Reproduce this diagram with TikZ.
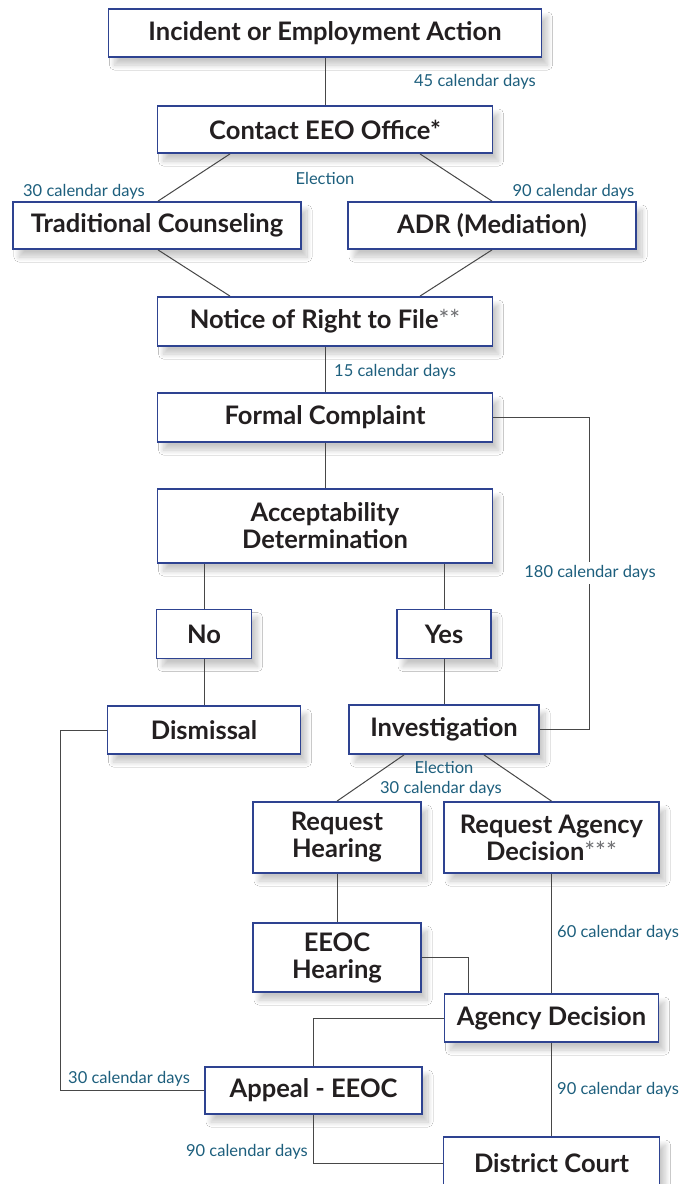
\documentclass[tikz,border=0pt]{standalone}
\usepackage{fontspec}
\setmainfont{Lato}
\usetikzlibrary{shadows.blur}
\definecolor{boxblue}{HTML}{2E4391}
\definecolor{labteal}{HTML}{1D5F7D}
\definecolor{txtdark}{HTML}{231F20}
\definecolor{linegray}{HTML}{474747}
\definecolor{stargray}{HTML}{6D6E71}
\newcommand{\stars}[1]{{\mdseries\color{stargray}#1}}
\begin{document}
\begin{tikzpicture}[x=1pt,y=-1pt,
  box/.style={draw=boxblue, line width=1.8pt, fill=white, text=txtdark,
    font=\bfseries\fontsize{25.5}{27}\selectfont, align=center, inner sep=0pt,
    blur shadow={shadow xshift=6pt, shadow yshift=-8pt, shadow blur radius=5pt, shadow blur steps=16, shadow opacity=22}},
  lab/.style={text=labteal, font=\fontsize{16.5}{18}\selectfont, inner sep=0pt},
  conn/.style={draw=linegray, line width=1pt}]
\fill[white] (0,0) rectangle (685,1184);
\useasboundingbox (0,0) rectangle (685,1184);

% boxes
\node[box, minimum width=433, minimum height=48] (inc) at (325,33) {Incident or Employment Action};
\node[box, minimum width=335, minimum height=47] (contact) at (325,129.5) {Contact EEO Office*};
\node[box, minimum width=288, minimum height=47] (trad) at (157,225.5) {Traditional Counseling};
\node[box, minimum width=288, minimum height=47] (adr) at (492,225.5) {ADR (Mediation)};
\node[box, minimum width=335, minimum height=49] (notice) at (325,321.5) {Notice of Right to File\stars{**}};
\node[box, minimum width=335, minimum height=49] (formal) at (325,417.5) {Formal Complaint};
\node[box, minimum width=335, minimum height=74] (accept) at (325,526) {Acceptability\\Determination};
\node[box, minimum width=95, minimum height=49] (no) at (204,634) {No};
\node[box, minimum width=94, minimum height=49] (yes) at (444,634) {Yes};
\node[box, minimum width=193, minimum height=48] (dismissal) at (204,730) {Dismissal};
\node[box, minimum width=190, minimum height=49] (invest) at (444,729.5) {Investigation};
\node[box, minimum width=168, minimum height=71] (reqh) at (337,837.5) {Request\\Hearing};
\node[box, minimum width=215, minimum height=71] (reqa) at (551.5,837.5) {Request Agency\\Decision\stars{***}};
\node[box, minimum width=168, minimum height=69] (eeoch) at (337,957.5) {EEOC\\Hearing};
\node[box, minimum width=214, minimum height=48] (agdec) at (551.5,1018) {Agency Decision};
\node[box, minimum width=217, minimum height=47] (appeal) at (313.5,1090.5) {Appeal - EEOC};
\node[box, minimum width=216, minimum height=52] (district) at (551.5,1163) {District Court};

% helper coordinates
\coordinate (rgt) at (589,0);
\coordinate (lft) at (60,0);
\coordinate (eh) at (468,0);

% connectors
\draw[conn] (inc.south) -- (contact.north);
\draw[conn] ([xshift=-95pt]contact.south) -- ([xshift=1pt]trad.north);
\draw[conn] ([xshift=95pt]contact.south) -- (adr.north);
\draw[conn] ([xshift=1pt]trad.south) -- ([xshift=-95pt]notice.north);
\draw[conn] (adr.south) -- ([xshift=95pt]notice.north);
\draw[conn] (notice.south) -- (formal.north);
\draw[conn] (formal.south) -- (accept.north);
\draw[conn] (formal.east) -- (formal.east -| rgt) -- (invest.east -| rgt) -- (invest.east);
\draw[conn] (accept.south -| no.north) -- (no.north);
\draw[conn] (accept.south -| yes.north) -- (yes.north);
\draw[conn] (no.south) -- (dismissal.north);
\draw[conn] (yes.south) -- (invest.north);
\draw[conn] (dismissal.west) -- (dismissal.west -| lft) -- (appeal.west -| lft) -- (appeal.west);
\draw[conn] ([xshift=-40pt]invest.south) -- (reqh.north);
\draw[conn] ([xshift=40pt]invest.south) -- (reqa.north);
\draw[conn] (reqh.south) -- (eeoch.north);
\draw[conn] (eeoch.east) -| (eh |- agdec.north);
\draw[conn] (reqa.south) -- (agdec.north);
\draw[conn] (agdec.west) -| (appeal.north);
\draw[conn] (agdec.south) -- (district.north);
\draw[conn] (appeal.south) |- (district.west);

% labels
\node[lab] (l45) at (475,82) {45 calendar days};
\node[lab] (lel1) at (325,178) {Election};
\node[lab] (l30a) at (84,192) {30 calendar days};
\node[lab] (l90a) at (573.5,192) {90 calendar days};
\node[lab, anchor=west] (l15) at (334,372) {15 calendar days};
\node[lab, fill=white, inner ysep=4pt] (l180) at (590,573) {180 calendar days};
\node[lab] (lel2) at (444,767) {Election};
\node[lab] (l30b) at (441,789) {30 calendar days};
\node[lab, anchor=west] (l60) at (557,933) {60 calendar days};
\node[lab, anchor=west] (l90b) at (557,1090) {90 calendar days};
\node[lab, anchor=west] (l30c) at (68,1079) {30 calendar days};
\node[lab, anchor=east] (l90c) at (308,1152) {90 calendar days};
\end{tikzpicture}
\end{document}
